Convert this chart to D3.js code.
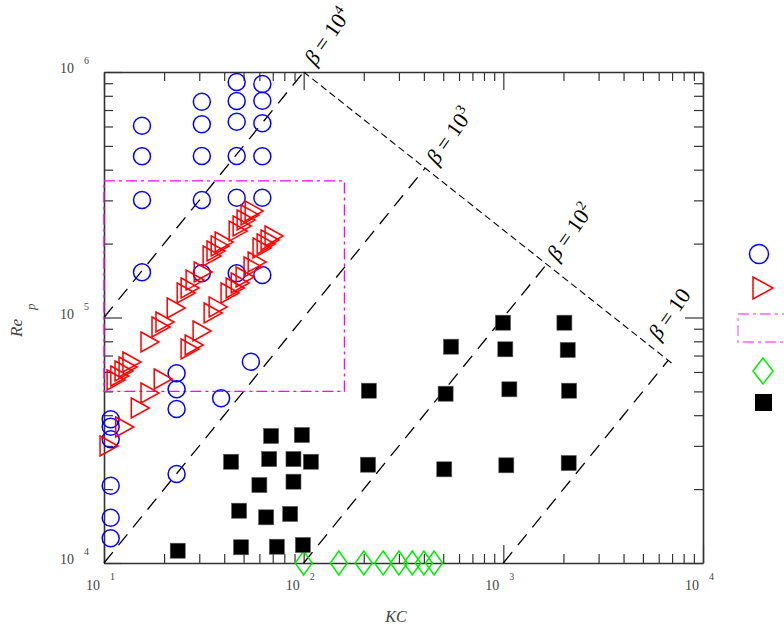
<!DOCTYPE html>
<html>
<head>
<meta charset="utf-8">
<script src="https://cdn.jsdelivr.net/npm/d3@7"></script>
<style>
  body { margin: 0; background: #fff; }
  svg { display: block; font-family: "Liberation Serif", "DejaVu Serif", serif; }
</style>
</head>
<body>
<div id="chart"></div>
<script>
// ---- data (KC, Re_p) ----
const circlePoints = [
  [15.5, 604300], [15.5, 453600], [15.5, 301000], [15.5, 152800],
  [30.9, 756800], [30.9, 612400], [30.9, 454900], [30.9, 301000], [30.9, 151400],
  [46.2, 910700], [46.2, 761900], [46.2, 627500], [46.2, 454900], [46.2, 307600], [46.2, 151400],
  [62.1, 893700], [62.1, 764000], [62.1, 618000], [62.1, 453600], [62.1, 307600], [62.1, 149000],
  [54.4, 66070], [23.1, 59250], [23.1, 50990], [23.1, 42400], [38.6, 46880],
  [10.8, 38480], [10.8, 35920], [10.8, 31910], [23.1, 23040],
  [10.8, 20650], [10.8, 15290], [10.8, 12610]
];

const trianglePoints = [
  // upper row
  [11.5, 55650], [12.0, 57770], [12.6, 60560], [13.2, 62850], [13.8, 65880],
  [17.0, 79470], [19.3, 91460], [20.2, 95880], [23.0, 109300], [25.8, 125800],
  [27.0, 131900], [28.6, 142100], [31.4, 153200], [34.8, 178000], [36.4, 186600],
  [38.2, 195600], [40.0, 203000], [47.0, 225000], [49.2, 235900], [51.5, 249600],
  [53.9, 261600], [56.5, 271600],
  // lower row
  [10.6, 29970], [12.7, 35810], [15.2, 42800], [17.0, 49260], [19.8, 56170],
  [27.0, 74410], [28.3, 77270], [31.0, 88100], [35.2, 104300], [37.3, 110400],
  [42.8, 125800], [45.4, 131900], [48.1, 138200], [50.9, 146200], [55.8, 160600],
  [58.5, 168300], [61.9, 191900], [64.9, 199300], [67.9, 206900], [71.1, 214800]
];

const diamondPoints = [
  [100, 10000], [150, 10000], [200, 10000], [250, 10000],
  [300, 10000], [350, 10000], [400, 10000], [450, 10000]
];

const squarePoints = [
  [23.4, 11220], [43.3, 25850], [68.7, 32910], [97.9, 33210], [67.2, 26510],
  [88.9, 26510], [108.7, 25850], [60.0, 20780], [88.9, 21440], [47.5, 16330],
  [64.9, 15350], [85.6, 15840], [48.6, 11590], [73.4, 11650], [99.1, 11840],
  [996, 95240], [2022, 95240], [547, 76050], [1023, 74220], [2101, 73730],
  [212, 50330], [514, 48930], [1072, 50990], [2135, 50330],
  [210, 25140], [506, 24080], [1035, 25000], [2125, 25540]
];

// constant-beta lines (Re = beta * KC), drawn between startKC and endKC
const betaValues = [1e4, 1e3, 1e2, 10];
const betaExponents = ["4", "3", "2", ""];
const betaStartKC = [10, 10, 100, 1000];
const betaEndKC = [100, 406, 1650, 6700];

// the thin dashed envelope line
const envelopeLine = [[100, 1e6], [7000, 65000]];

// experimental range box (KC, Re)
const rangeBox = [[10, 50000], [160, 360000]];

const xDecades = [10, 100, 1000, 10000];
const xExponents = ["1", "2", "3", "4"];
const yDecades = [1e4, 1e5, 1e6];
const yExponents = ["4", "5", "6"];

// ---- chart ----
const W = 784, H = 629;
const plot = {left: 104, right: 703, top: 72, bottom: 563};

const svg = d3.select("#chart").append("svg")
  .attr("width", W)
  .attr("height", H);

svg.append("rect").attr("width", W).attr("height", H).attr("fill", "#fff");

const x = d3.scaleLog().domain([10, 1e4]).range([plot.left, plot.right]);
const y = d3.scaleLog().domain([1e4, 1e6]).range([plot.bottom, plot.top]);

// minor tick values
function minors(decades) {
  const out = [];
  decades.slice(0, -1).forEach(d => {
    for (let k = 2; k <= 9; k++) out.push(d * k);
  });
  return out;
}
const xMinor = minors(xDecades);
const yMinor = minors(yDecades);

const axisColor = "#333";

function drawAxis(gen, transform, values, size, showDomain) {
  const g = svg.append("g")
    .attr("transform", transform)
    .call(gen.tickValues(values).tickSize(-size).tickSizeOuter(0).tickFormat(""));
  g.selectAll(".tick line").attr("stroke", axisColor).attr("stroke-width", 1.2);
  g.select(".domain").attr("stroke", showDomain ? axisColor : "none").attr("stroke-width", 1.6);
  return g;
}

// major + minor ticks on all four sides, pointing inwards
drawAxis(d3.axisBottom(x), `translate(0,${plot.bottom})`, xDecades, 18, true);
drawAxis(d3.axisBottom(x), `translate(0,${plot.bottom})`, xMinor, 9, false);
drawAxis(d3.axisTop(x), `translate(0,${plot.top})`, xDecades, 18, true);
drawAxis(d3.axisTop(x), `translate(0,${plot.top})`, xMinor, 9, false);
drawAxis(d3.axisLeft(y), `translate(${plot.left},0)`, yDecades, 18, true);
drawAxis(d3.axisLeft(y), `translate(${plot.left},0)`, yMinor, 9, false);
drawAxis(d3.axisRight(y), `translate(${plot.right},0)`, yDecades, 18, true);
drawAxis(d3.axisRight(y), `translate(${plot.right},0)`, yMinor, 9, false);

// tick labels "10" with exponent
const labelColor = "#444";
xDecades.forEach((v, i) => {
  svg.append("text")
    .attr("x", x(v) - 4).attr("y", plot.bottom + 27)
    .attr("text-anchor", "end")
    .style("font-size", "14px").attr("fill", labelColor)
    .text("10");
  svg.append("text")
    .attr("x", x(v) + 6).attr("y", plot.bottom + 17)
    .style("font-size", "10px").attr("fill", labelColor)
    .text(xExponents[i]);
});
yDecades.forEach((v, i) => {
  svg.append("text")
    .attr("x", 74).attr("y", y(v) + 1)
    .attr("text-anchor", "end")
    .style("font-size", "14px").attr("fill", labelColor)
    .text("10");
  svg.append("text")
    .attr("x", 84).attr("y", y(v) - 8)
    .style("font-size", "10px").attr("fill", labelColor)
    .text(yExponents[i]);
});

// axis titles
svg.append("text")
  .attr("x", 396).attr("y", 622)
  .attr("text-anchor", "middle")
  .style("font-size", "16px").style("font-style", "italic")
  .attr("fill", labelColor)
  .text("KC");

svg.append("text")
  .attr("transform", "translate(22,337) rotate(-90)")
  .style("font-size", "17px").style("font-style", "italic")
  .attr("fill", labelColor)
  .text("Re");
svg.append("text")
  .attr("transform", "translate(35,310) rotate(-90)")
  .style("font-size", "13px").style("font-style", "italic")
  .attr("fill", labelColor)
  .text("p");

// envelope line
const line = d3.line().x(d => x(d[0])).y(d => y(d[1]));
svg.append("path")
  .attr("d", line(envelopeLine))
  .attr("fill", "none")
  .attr("stroke", "#000")
  .attr("stroke-width", 1.1)
  .attr("stroke-dasharray", "7,4");

// beta lines
const betaAngle = -55;
const labelOffsets = [[11.5, -5.5], [12, -2], [11, -2], [-9, -19]];

betaValues.forEach((b, i) => {
  const pts = [[betaStartKC[i], b * betaStartKC[i]], [betaEndKC[i], b * betaEndKC[i]]];
  svg.append("path")
    .attr("d", line(pts))
    .attr("fill", "none")
    .attr("stroke", "#000")
    .attr("stroke-width", 1.3)
    .attr("stroke-dasharray", "14,9");

  const ex = x(pts[1][0]) + labelOffsets[i][0];
  const ey = y(pts[1][1]) + labelOffsets[i][1];
  const t = svg.append("text")
    .attr("transform", `translate(${ex},${ey}) rotate(${betaAngle})`)
    .style("font-size", "22px")
    .attr("fill", "#000");
  t.append("tspan").style("font-style", "italic").text("β");
  t.append("tspan").text(" = 10");
  if (betaExponents[i]) {
    t.append("tspan").attr("dy", -9).style("font-size", "14px").text(betaExponents[i]);
  }
});

// range box
svg.append("rect")
  .attr("x", x(rangeBox[0][0]))
  .attr("y", y(rangeBox[1][1]))
  .attr("width", x(rangeBox[1][0]) - x(rangeBox[0][0]))
  .attr("height", y(rangeBox[0][1]) - y(rangeBox[1][1]))
  .attr("fill", "none")
  .attr("stroke", "#ff00ff")
  .attr("stroke-width", 1.3)
  .attr("stroke-dasharray", "11,4,3,4");

// markers
const triPath = "M-9,-10L9,0L-9,10Z";
const diaPath = "M0,-12L8.5,0L0,12L-8.5,0Z";

svg.append("g").selectAll("circle")
  .data(circlePoints)
  .enter().append("circle")
  .attr("cx", d => x(d[0]))
  .attr("cy", d => y(d[1]))
  .attr("r", 8.5)
  .attr("fill", "none")
  .attr("stroke", "#0000ff")
  .attr("stroke-width", 1.5);

svg.append("g").selectAll("path")
  .data(trianglePoints)
  .enter().append("path")
  .attr("d", triPath)
  .attr("transform", d => `translate(${x(d[0])},${y(d[1])})`)
  .attr("fill", "none")
  .attr("stroke", "#ff0000")
  .attr("stroke-width", 1.5);

svg.append("g").selectAll("path")
  .data(diamondPoints)
  .enter().append("path")
  .attr("d", diaPath)
  .attr("transform", d => `translate(${x(d[0])},${y(d[1])})`)
  .attr("fill", "none")
  .attr("stroke", "#00ee00")
  .attr("stroke-width", 1.5);

svg.append("g").selectAll("rect")
  .data(squarePoints)
  .enter().append("rect")
  .attr("x", d => x(d[0]) - 7.5)
  .attr("y", d => y(d[1]) - 7.5)
  .attr("width", 15)
  .attr("height", 15)
  .attr("fill", "#000")
  .attr("stroke", "#555")
  .attr("stroke-width", 0.6);

// legend (its text falls outside the picture)
const legend = svg.append("g");
legend.append("circle")
  .attr("cx", 759).attr("cy", 254).attr("r", 9.5)
  .attr("fill", "none").attr("stroke", "#0000ff").attr("stroke-width", 1.5);
legend.append("path")
  .attr("d", "M-10,-11L10,0L-10,11Z")
  .attr("transform", "translate(763,288)")
  .attr("fill", "none").attr("stroke", "#ff0000").attr("stroke-width", 1.5);
legend.append("rect")
  .attr("x", 738).attr("y", 314).attr("width", 60).attr("height", 28)
  .attr("fill", "none").attr("stroke", "#ff66ff").attr("stroke-width", 1.3)
  .attr("stroke-dasharray", "11,4,3,4");
legend.append("path")
  .attr("d", "M0,-13L10,0L0,13L-10,0Z")
  .attr("transform", "translate(763,371)")
  .attr("fill", "none").attr("stroke", "#00ee00").attr("stroke-width", 1.5);
legend.append("rect")
  .attr("x", 755).attr("y", 394).attr("width", 17).attr("height", 17)
  .attr("fill", "#000");
</script>
</body>
</html>
